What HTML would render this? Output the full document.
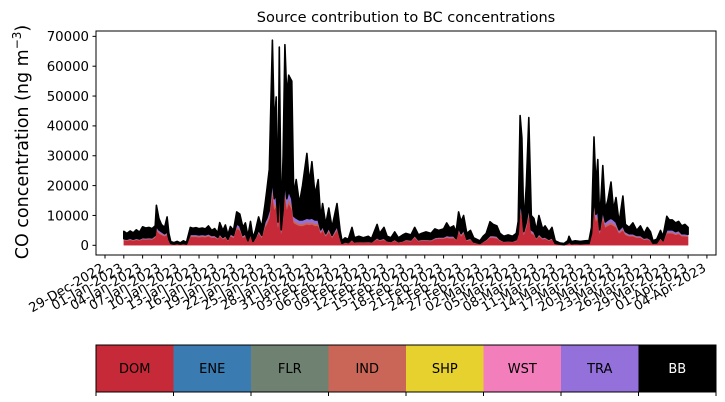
<!DOCTYPE html>
<html><head><meta charset="utf-8"><style>
html,body{margin:0;padding:0;background:#fff;}
svg{display:block;font-family:"DejaVu Sans","Liberation Sans",sans-serif;}
</style></head><body>
<svg id="chart" width="725" height="402" viewBox="0 0 725 402" xmlns="http://www.w3.org/2000/svg">
<text x="406" y="22" font-size="14.5" text-anchor="middle">Source contribution to BC concentrations</text>
<text transform="translate(28,142) rotate(-90)" font-size="17.5" text-anchor="middle">CO concentration (ng m<tspan font-size="12" dy="-7">−3</tspan><tspan dy="7">)</tspan></text>
<g id="layers"></g>
<rect x="96" y="31" width="620" height="224" fill="none" stroke="#000" stroke-width="1"/>
<g id="yaxis"></g>
<g id="xaxis"></g>
<g id="cbar"></g>
</svg>
<script>
const days=[0,0.5,1,1.5,2,2.5,3,3.5,4,4.5,5,5.2,5.6,6,6.5,6.9,7.2,7.5,8,8.5,9,9.5,10,10.6,11,11.5,12,12.5,13,13.5,14,14.5,15,15.3,15.8,16.2,16.6,17,17.5,18,18.5,19,19.4,19.8,20.2,20.6,21,21.5,22,22.5,22.8,23.2,23.7,24,24.3,24.6,24.8,25.1,25.4,25.7,26,26.3,26.8,27.1,27.5,28,28.5,29.2,29.6,30,30.5,31,31.4,31.7,32.2,32.7,33.2,34,34.5,34.8,35.3,35.8,36.4,36.8,37.5,38.2,39,39.5,40.4,40.8,41.5,42,42.6,43.2,43.8,44.5,45,45.8,46.4,47,47.5,48.2,49,49.6,50.2,51,51.5,52,52.6,53,53.4,53.8,54.2,54.7,55.3,55.8,56.8,57.3,57.8,58.4,58.9,59.5,60,60.6,61.3,62,62.6,62.9,63.2,63.5,63.8,64.2,64.6,65,65.4,65.8,66.2,66.8,67.2,67.8,68.3,68.8,69.5,70.2,70.8,71,71.4,72,72.8,73.6,74.2,74.6,75,75.3,75.6,75.9,76.4,76.8,77.2,77.7,78.1,78.5,79,79.6,80,80.6,81.2,81.8,82.4,83,83.5,84,84.4,85,85.6,86,86.6,87,87.5,88,88.5,89,89.5,90];
const total=[4700,4000,4800,4200,5200,4400,6200,5800,6000,5600,6500,13400,9000,7000,6000,9500,4000,1200,900,1300,800,1500,1000,6000,5700,5900,5600,5800,5500,6500,5000,5600,4200,7600,5000,6800,3500,6300,5000,11200,10500,6000,7500,3000,8000,2500,5000,9500,6000,13400,18400,25500,68700,40000,49700,15000,66400,8000,30000,67200,50000,57000,55000,17000,22000,14000,20000,30800,21000,28000,17000,22000,9000,14000,7000,12500,6000,14000,5000,1500,2500,2000,6000,2500,3000,2500,3000,2200,7000,4000,6000,3000,2500,4500,2500,3500,4000,3500,6000,3500,4000,4500,4000,5500,5000,5500,7500,5800,6500,4500,11200,8000,10000,4000,5000,2500,1500,3000,4000,7900,7000,6500,4000,3000,3500,3000,4000,8000,43500,36000,7000,20000,42800,10000,9000,5000,10000,5500,6500,4500,6000,1500,800,600,1500,3000,1200,1500,1300,1500,1600,6000,36300,20000,28700,8000,26700,12000,15000,21200,12000,16000,7500,16500,7000,6000,7500,5000,6500,4000,6000,4500,1500,2000,5000,3000,9700,8500,8500,7500,8000,6500,7000,6000];
const dom=[1700,1500,1800,1500,1800,1600,2000,1900,2000,1900,2600,5000,4000,3500,3000,3500,1500,400,300,400,300,400,300,2800,2800,2800,2700,2800,2700,3000,2500,2600,2000,3000,2000,2500,1500,3000,2500,5500,5000,2500,3000,1200,3000,1000,2000,4000,2500,6000,7000,9000,17000,12000,13000,6000,17500,4000,9000,16500,12000,14000,12000,7500,7000,6500,6500,7000,6800,7000,6500,6500,4000,5000,3000,4500,2500,5000,2000,500,800,700,1500,800,1000,900,1000,800,2000,1500,1800,1200,1000,1500,900,1200,1500,1300,2500,1300,1500,1500,1400,2000,2200,2200,2500,2300,2400,1700,4500,3000,4000,1500,1800,800,500,1000,1500,2500,2500,2300,1500,1100,1200,1100,1400,3000,11000,9000,3500,6000,10000,4000,3500,2000,3000,2000,2200,1500,2000,500,300,200,500,800,400,500,400,500,500,3000,12000,8000,9000,4000,9000,6000,6500,7000,6500,6000,4000,5000,3500,3000,3000,2500,2500,1800,2000,1500,500,600,2000,1200,4000,4000,4000,3500,3800,3000,3000,2800];
const ind=[200,200,200,200,200,200,200,200,200,200,300,500,400,400,300,400,200,100,0,100,0,100,0,300,300,300,300,300,300,300,300,300,200,300,200,300,200,300,300,600,500,300,300,100,300,100,200,400,300,600,700,900,1700,1200,1300,600,1800,400,900,1700,1200,1400,1200,800,700,700,700,700,700,700,700,700,400,500,300,500,300,500,200,100,100,100,200,100,100,100,100,100,200,200,200,100,100,200,100,100,200,200,300,200,200,200,200,200,200,200,300,300,300,200,500,300,400,200,200,100,0,100,200,300,300,300,200,100,100,100,200,300,1100,900,400,600,1000,400,400,200,300,200,200,200,200,0,0,0,0,100,0,0,0,0,0,300,1200,800,900,400,900,600,700,700,700,600,400,500,400,300,300,300,300,200,200,200,100,100,200,100,400,400,400,400,400,300,300,300];
const tra=[300,300,400,300,400,300,400,400,400,400,500,1000,800,700,600,700,300,100,100,100,100,100,100,600,600,600,500,600,500,600,500,500,400,600,400,500,300,600,500,1100,1000,500,600,200,600,200,400,800,500,1200,1400,1800,3400,2400,2600,1200,3500,800,1800,3300,2400,2800,2400,1500,1400,1300,1300,1400,1400,1400,1300,1300,800,1000,600,900,500,1000,400,100,200,100,300,200,200,200,200,200,400,300,400,200,200,300,200,200,300,300,500,300,300,300,300,400,400,400,500,500,500,300,900,600,800,300,400,200,100,200,300,500,500,500,300,200,200,200,300,600,2200,1800,700,1200,2000,800,700,400,600,400,400,300,400,100,100,0,100,200,100,100,100,100,100,600,2400,1600,1800,800,1800,1200,1300,1400,1300,1200,800,1000,700,600,600,500,500,400,400,300,100,100,400,200,800,800,800,700,800,600,600,600];
const yTicks=[0,10000,20000,30000,40000,50000,60000,70000];
const xTickLabels=["29-Dec-2022","01-Jan-2023","04-Jan-2023","07-Jan-2023","10-Jan-2023","13-Jan-2023","16-Jan-2023","19-Jan-2023","22-Jan-2023","25-Jan-2023","28-Jan-2023","31-Jan-2023","03-Feb-2023","06-Feb-2023","09-Feb-2023","12-Feb-2023","15-Feb-2023","18-Feb-2023","21-Feb-2023","24-Feb-2023","27-Feb-2023","02-Mar-2023","05-Mar-2023","08-Mar-2023","11-Mar-2023","14-Mar-2023","17-Mar-2023","20-Mar-2023","23-Mar-2023","26-Mar-2023","29-Mar-2023","01-Apr-2023","04-Apr-2023"];
const xTickDays=[-3,0,3,6,9,12,15,18,21,24,27,30,33,36,39,42,45,48,51,54,57,60,63,66,69,72,75,78,81,84,87,90,93];
const sources=["DOM","ENE","FLR","IND","SHP","WST","TRA","BB"];
const sourceColors=["#c62a38","#3a7cb2","#6f8272","#c96657","#e6d12e","#f27fbc","#9370da","#000000"];

const NS="http://www.w3.org/2000/svg";
const X0=123.8, DX=6.27, Y0=245.3, DY=29.85/10000;
function xs(d){return X0+d*DX;}
function ys(v){return Y0-v*DY;}
function mk(tag,attrs,parent){const e=document.createElementNS(NS,tag);for(const k in attrs)e.setAttribute(k,attrs[k]);parent.appendChild(e);return e;}

const n=days.length;
const c1=[],c2=[],c3=[],c4=[];
for(let i=0;i<n;i++){
  const a=dom[i]||0,b=a+(ind[i]||0),c=b+(tra[i]||0);
  c1.push(a);c2.push(b);c3.push(c);c4.push(Math.max(c,total[i]||0));
}
const layers=document.getElementById('layers');
function areaPath(lo,hi){
  let p="";
  for(let i=0;i<n;i++)p+=(i?"L":"M")+xs(days[i]).toFixed(1)+","+ys(hi[i]).toFixed(1);
  for(let i=n-1;i>=0;i--)p+="L"+xs(days[i]).toFixed(1)+","+ys(lo[i]).toFixed(1);
  return p+"Z";
}
const zero=days.map(()=>0);
const specs=[[zero,c1,sourceColors[0],'area-dom'],[c1,c2,sourceColors[3],'area-ind'],[c2,c3,sourceColors[6],'area-tra'],[c3,c4,sourceColors[7],'area-bb']];
specs.forEach(s=>{
  const p=mk('path',{d:areaPath(s[0],s[1]),fill:s[2],stroke:s[2],'stroke-width':s[3]==='area-bb'?1.6:0.4,'stroke-linejoin':'round'},layers);
  
  
});

const ya=document.getElementById('yaxis');
yTicks.forEach(v=>{
  const y=ys(v);
  const l=mk('line',{x1:92.5,x2:96,y1:y,y2:y,stroke:'#000','stroke-width':1},ya);
  
  
  const t=mk('text',{x:89,y:y+4.8,'font-size':13.3,'text-anchor':'end'},ya);
  
  
  t.textContent=String(v);
});

const xa=document.getElementById('xaxis');
xTickDays.forEach((d,i)=>{
  const x=xs(d);
  const l=mk('line',{x1:x,x2:x,y1:255,y2:258.5,stroke:'#000','stroke-width':1},xa);
  
  
  const t=mk('text',{transform:`translate(${x},${270.5}) rotate(-30)`,'font-size':13,'text-anchor':'end'},xa);
  
  
  t.textContent=xTickLabels[i];
});

const cb=document.getElementById('cbar');
const cx0=96,cw=620/sources.length;
sources.forEach((s,i)=>{
  const r=mk('rect',{x:cx0+i*cw,y:345,width:cw+0.5,height:47,fill:sourceColors[i]},cb);
  
  
  const t=mk('text',{x:cx0+(i+0.5)*cw,y:373,'font-size':13,'text-anchor':'middle',fill:s==='BB'?'#fff':'#000'},cb);
  
  
  t.textContent=s;
});
const fr=mk('rect',{x:96,y:345,width:620,height:47,fill:'none',stroke:'#000','stroke-width':1},cb);


for(let i=0;i<=sources.length;i++){
  const x=cx0+i*cw;
  const l=mk('line',{x1:x,x2:x,y1:392,y2:396,stroke:'#000','stroke-width':1},cb);
  
  
}
</script>
</body></html>
